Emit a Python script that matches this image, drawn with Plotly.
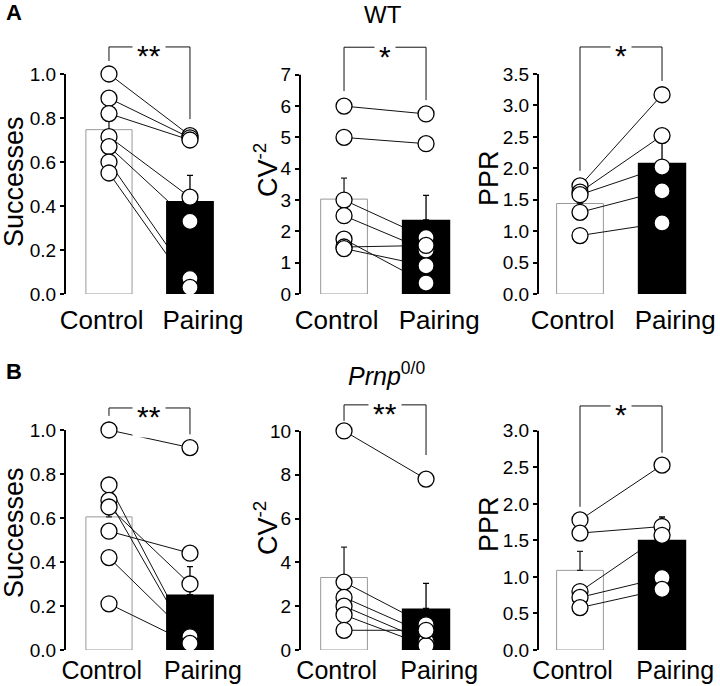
import plotly.graph_objects as go

# ---------------- data ----------------
categories = ["Control", "Pairing"]

# Panel A (WT)
wt_succ_ctrl = [1.00, 0.89, 0.82, 0.715, 0.67, 0.60, 0.55]
wt_succ_pair = [0.72, 0.71, 0.70, 0.44, 0.33, 0.07, 0.03]
wt_succ_mean = [0.747, 0.423]
wt_succ_sem = [0.06, 0.116]

wt_cv_ctrl = [6.0, 5.0, 3.0, 2.5, 1.75, 1.5, 1.45]
wt_cv_pair = [5.75, 4.8, 1.8, 1.4, 0.35, 1.55, 0.9]
wt_cv_mean = [3.03, 2.37]
wt_cv_sem = [0.67, 0.78]

wt_ppr_ctrl = [1.72, 1.62, 1.58, 1.30, 0.93]
wt_ppr_pair = [3.17, 2.52, 2.02, 1.64, 1.13]
wt_ppr_mean = [1.44, 2.09]
wt_ppr_sem = [0.17, 0.41]

# Panel B (Prnp0/0)
ko_succ_ctrl = [1.00, 0.75, 0.68, 0.65, 0.54, 0.42, 0.21]
ko_succ_pair = [0.92, 0.05, 0.04, 0.30, 0.44, 0.06, 0.03]
ko_succ_mean = [0.605, 0.252]
ko_succ_sem = [0.10, 0.127]

ko_cv_ctrl = [10.0, 3.1, 2.4, 2.0, 1.6, 0.9]
ko_cv_pair = [7.8, 1.15, 0.75, 0.4, 0.2, 0.9]
ko_cv_mean = [3.31, 1.90]
ko_cv_sem = [1.39, 1.14]

ko_ppr_ctrl = [1.78, 1.60, 0.80, 0.72, 0.58]
ko_ppr_pair = [2.53, 1.69, 1.57, 0.99, 0.83]
ko_ppr_mean = [1.09, 1.51]
ko_ppr_sem = [0.26, 0.31]

# y tick values
succ_ticks = [0.0, 0.2, 0.4, 0.6, 0.8, 1.0]
wt_cv_ticks = [0, 1, 2, 3, 4, 5, 6, 7]
wt_ppr_ticks = [0.0, 0.5, 1.0, 1.5, 2.0, 2.5, 3.0, 3.5]
ko_cv_ticks = [0, 2, 4, 6, 8, 10]
ko_ppr_ticks = [0.0, 0.5, 1.0, 1.5, 2.0, 2.5, 3.0]

# significance brackets: (top level, left end, right end, label)
wt_succ_sig = (1.123, 1.059, 0.795, "**")
wt_cv_sig = (7.88, 6.48, 6.19, "*")
wt_ppr_sig = (3.93, 1.96, 3.39, "*")
ko_succ_sig = (1.10, 1.064, 0.98, "**")
ko_cv_sig = (11.19, 10.46, 8.9, "**")
ko_ppr_sig = (3.34, 1.96, 2.70, "*")

# ---------------- layout geometry ----------------
W, H = 720, 686
FONT = "Liberation Sans, Arial, sans-serif"

col_px = [(65, 218), (300, 459), (538, 695)]
col_xrange = [[-0.543, 1.346], [-0.537, 1.402], [-0.512, 1.402]]
label_pos = [-0.09, 1.16]   # horizontal placement of the category labels
row_px = [(294, 30), (650, 395)]  # (bottom, top) pixels
row_standoff = [2, -3]
row_labelsize = [26, 25]

panels = [
    dict(ctrl=wt_succ_ctrl, pair=wt_succ_pair, mean=wt_succ_mean, sem=wt_succ_sem,
         ticks=succ_ticks, fmt=".1f", ytop=1.2, sig=wt_succ_sig, title="Successes",
         row=0, col=0, tx=14, ty=182),
    dict(ctrl=wt_cv_ctrl, pair=wt_cv_pair, mean=wt_cv_mean, sem=wt_cv_sem,
         ticks=wt_cv_ticks, fmt="d", ytop=8.43, sig=wt_cv_sig, title="CV<sup>-2</sup>",
         row=0, col=1, tx=266, ty=170),
    dict(ctrl=wt_ppr_ctrl, pair=wt_ppr_pair, mean=wt_ppr_mean, sem=wt_ppr_sem,
         ticks=wt_ppr_ticks, fmt=".1f", ytop=4.2, sig=wt_ppr_sig, title="PPR",
         row=0, col=2, tx=489, ty=178),
    dict(ctrl=ko_succ_ctrl, pair=ko_succ_pair, mean=ko_succ_mean, sem=ko_succ_sem,
         ticks=succ_ticks, fmt=".1f", ytop=1.159, sig=ko_succ_sig, title="Successes",
         row=1, col=0, tx=14, ty=533),
    dict(ctrl=ko_cv_ctrl, pair=ko_cv_pair, mean=ko_cv_mean, sem=ko_cv_sem,
         ticks=ko_cv_ticks, fmt="d", ytop=11.64, sig=ko_cv_sig, title="CV<sup>-2</sup>",
         row=1, col=1, tx=266, ty=528),
    dict(ctrl=ko_ppr_ctrl, pair=ko_ppr_pair, mean=ko_ppr_mean, sem=ko_ppr_sem,
         ticks=ko_ppr_ticks, fmt=".1f", ytop=3.49, sig=ko_ppr_sig, title="PPR",
         row=1, col=2, tx=489, ty=524),
]

fig = go.Figure()
shapes = []
annotations = []
layout_axes = {}

for i, p in enumerate(panels, start=1):
    xa = "x" if i == 1 else f"x{i}"
    ya = "y" if i == 1 else f"y{i}"
    xk = "xaxis" if i == 1 else f"xaxis{i}"
    yk = "yaxis" if i == 1 else f"yaxis{i}"
    x0px, x1px = col_px[p["col"]]
    ybpx, ytpx = row_px[p["row"]]

    # paired lines (behind the black bar)
    lx, ly = [], []
    for c, q in zip(p["ctrl"], p["pair"]):
        lx += [0, 1, None]
        ly += [c, q, None]
    fig.add_trace(go.Scatter(x=lx, y=ly, mode="lines", xaxis=xa, yaxis=ya,
                             line=dict(color="#111", width=1), showlegend=False,
                             hoverinfo="skip", zorder=0))
    # control bar (white, grey outline)
    fig.add_trace(go.Bar(x=[0], y=[p["mean"][0]], width=0.57, xaxis=xa, yaxis=ya,
                         marker=dict(color="rgba(255,255,255,0)",
                                     line=dict(color="#999", width=1)),
                         error_y=dict(type="data", symmetric=False,
                                      array=[p["sem"][0]], arrayminus=[0],
                                      color="#222", thickness=1.3, width=3),
                         showlegend=False, zorder=0))
    # pairing bar (black)
    fig.add_trace(go.Bar(x=[1], y=[p["mean"][1]], width=0.59, xaxis=xa, yaxis=ya,
                         marker=dict(color="black", line=dict(color="black", width=0)),
                         error_y=dict(type="data", symmetric=False,
                                      array=[p["sem"][1]], arrayminus=[0],
                                      color="black", thickness=1.3, width=3),
                         showlegend=False, zorder=1))
    # individual points
    mx = [0] * len(p["ctrl"]) + [1] * len(p["pair"])
    my = list(p["ctrl"]) + list(p["pair"])
    fig.add_trace(go.Scatter(x=mx, y=my, mode="markers", xaxis=xa, yaxis=ya,
                             marker=dict(size=16, color="white",
                                         line=dict(color="black", width=1.3)),
                             cliponaxis=False, showlegend=False, zorder=2))

    layout_axes[xk] = dict(domain=[x0px / W, x1px / W], range=col_xrange[p["col"]],
                           anchor=ya, showline=True, linewidth=2, linecolor="black",
                           tickvals=label_pos, ticktext=categories, ticks="",
                           tickangle=0, showgrid=False, zeroline=False,
                           automargin=False, fixedrange=True,
                           ticklabelstandoff=row_standoff[p["row"]],
                           tickfont=dict(family=FONT, size=row_labelsize[p["row"]],
                                         color="black"))
    layout_axes[yk] = dict(domain=[1 - ybpx / H, 1 - ytpx / H], range=[0, p["ytop"]],
                           anchor=xa, showline=False, tickvals=p["ticks"],
                           tickformat=p["fmt"], ticks="outside", ticklen=4,
                           tickwidth=1.5, tickcolor="black", showgrid=False,
                           zeroline=False, automargin=False, fixedrange=True,
                           tickfont=dict(family=FONT, size=19, color="black"))

    # y axis line up to the top tick
    shapes.append(dict(type="line", xref=f"{xa} domain", yref=ya, x0=0, x1=0,
                       y0=0, y1=p["ticks"][-1], line=dict(color="black", width=2)))
    # significance bracket
    top, left, right, lab = p["sig"]
    shapes.append(dict(type="path", xref=xa, yref=ya,
                       path=f"M 0,{left} L 0,{top} L 1,{top} L 1,{right}",
                       line=dict(color="#111", width=1)))
    annotations.append(dict(x=0.5, y=top, xref=xa, yref=ya, text=lab, showarrow=False,
                            font=dict(family=FONT, size=30, color="black"),
                            bgcolor="white", borderpad=4, yshift=-9,
                            xanchor="center", yanchor="middle"))
    # y axis title
    annotations.append(dict(x=p["tx"] / W, y=1 - p["ty"] / H, xref="paper", yref="paper",
                            text=p["title"], textangle=-90, showarrow=False,
                            font=dict(family=FONT, size=27, color="black"),
                            xanchor="center", yanchor="middle"))

# panel labels and group titles
annotations += [
    dict(x=4 / W, y=1 - 13 / H, xref="paper", yref="paper", text="<b>A</b>",
         showarrow=False, xanchor="left", yanchor="middle",
         font=dict(family=FONT, size=22, color="black")),
    dict(x=4 / W, y=1 - 371 / H, xref="paper", yref="paper", text="<b>B</b>",
         showarrow=False, xanchor="left", yanchor="middle",
         font=dict(family=FONT, size=22, color="black")),
    dict(x=383 / W, y=1 - 15 / H, xref="paper", yref="paper", text="WT",
         showarrow=False, xanchor="center", yanchor="middle",
         font=dict(family=FONT, size=24, color="black")),
    dict(x=386 / W, y=1 - 374 / H, xref="paper", yref="paper",
         text="<i>Prnp</i><sup>0/0</sup>",
         showarrow=False, xanchor="center", yanchor="middle",
         font=dict(family=FONT, size=25, color="black")),
]

fig.update_layout(width=W, height=H, margin=dict(l=0, r=0, t=0, b=0, pad=0),
                  paper_bgcolor="white", plot_bgcolor="white",
                  barmode="overlay", showlegend=False,
                  shapes=shapes, annotations=annotations, **layout_axes)

fig.write_html("out.html", config={"displayModeBar": False},
               post_script="document.body.style.margin='0';document.body.style.padding='0';")
